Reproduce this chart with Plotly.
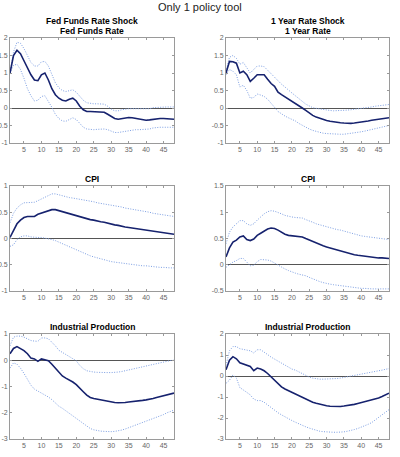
import plotly.graph_objects as go

horizons = list(range(1, 49))

ff_main = [1.0, 1.5, 1.65, 1.55, 1.35, 1.15, 0.95, 0.8, 0.78, 0.95, 1.0, 0.8, 0.55, 0.38, 0.28, 0.22, 0.2, 0.25, 0.28, 0.2,
           0.05, -0.05, -0.1, -0.1, -0.1, -0.1, -0.1, -0.12, -0.18, -0.25, -0.3, -0.32, -0.3, -0.28, -0.27, -0.28, -0.3, -0.32,
           -0.34, -0.35, -0.34, -0.32, -0.3, -0.3, -0.3, -0.3, -0.31, -0.32]
ff_upper = [1.0, 1.6, 1.88, 1.85, 1.7, 1.48, 1.3, 1.2, 1.2, 1.32, 1.33, 1.2, 0.95, 0.72, 0.58, 0.5, 0.47, 0.5, 0.52, 0.45,
            0.33, 0.22, 0.15, 0.13, 0.12, 0.12, 0.12, 0.11, 0.05, -0.03, -0.08, -0.08, -0.05, -0.03, -0.02, -0.02, -0.02, -0.03,
            -0.04, -0.04, -0.02, 0.01, 0.02, 0.03, 0.03, 0.03, 0.03, 0.03]
ff_lower = [1.0, 1.22, 1.25, 1.1, 0.85, 0.55, 0.35, 0.2, 0.22, 0.33, 0.35, 0.2, 0.02, -0.18, -0.3, -0.37, -0.38, -0.33, -0.28, -0.33,
            -0.45, -0.55, -0.6, -0.62, -0.62, -0.61, -0.6, -0.6, -0.62, -0.66, -0.7, -0.7, -0.68, -0.66, -0.64, -0.63, -0.62, -0.62,
            -0.62, -0.62, -0.6, -0.57, -0.55, -0.55, -0.55, -0.55, -0.55, -0.55]

oy_main = [1.0, 1.33, 1.32, 1.28, 1.0, 1.05, 0.95, 0.76, 0.85, 0.95, 0.95, 0.95, 0.82, 0.7, 0.62, 0.45, 0.38, 0.32, 0.25, 0.2,
           0.14, 0.06, 0.0, -0.07, -0.15, -0.21, -0.26, -0.3, -0.33, -0.36, -0.38, -0.4, -0.41, -0.42, -0.43, -0.44, -0.44, -0.43,
           -0.42, -0.4, -0.39, -0.37, -0.35, -0.34, -0.32, -0.3, -0.29, -0.28]
oy_upper = [1.05, 1.45, 1.5, 1.42, 1.25, 1.3, 1.15, 1.0, 1.1, 1.2, 1.2, 1.18, 1.08, 0.98, 0.88, 0.75, 0.68, 0.6, 0.5, 0.43,
            0.35, 0.27, 0.2, 0.11, 0.06, 0.01, -0.01, -0.03, -0.05, -0.06, -0.07, -0.08, -0.08, -0.08, -0.07, -0.06, -0.05, -0.04,
            -0.03, -0.01, 0.0, 0.02, 0.03, 0.05, 0.06, 0.07, 0.09, 0.1]
oy_lower = [0.95, 1.1, 1.05, 0.95, 0.6, 0.65, 0.5, 0.28, 0.3, 0.4, 0.37, 0.33, 0.25, 0.15, 0.02, -0.1, -0.17, -0.23, -0.28, -0.32,
            -0.37, -0.44, -0.5, -0.55, -0.6, -0.64, -0.67, -0.7, -0.72, -0.73, -0.74, -0.75, -0.75, -0.75, -0.75, -0.74, -0.73, -0.71,
            -0.7, -0.68, -0.66, -0.64, -0.61, -0.59, -0.57, -0.54, -0.52, -0.5]

cpi1_main = [0.02, 0.15, 0.28, 0.35, 0.4, 0.42, 0.42, 0.42, 0.46, 0.48, 0.5, 0.53, 0.55, 0.55, 0.53, 0.51, 0.49, 0.47, 0.45, 0.44,
             0.42, 0.4, 0.38, 0.36, 0.35, 0.33, 0.32, 0.31, 0.29, 0.28, 0.26, 0.25, 0.23, 0.22, 0.21, 0.2, 0.19, 0.18,
             0.17, 0.16, 0.15, 0.14, 0.13, 0.12, 0.11, 0.1, 0.09, 0.08]
cpi1_upper = [0.3, 0.48, 0.58, 0.64, 0.68, 0.68, 0.68, 0.69, 0.72, 0.75, 0.78, 0.82, 0.85, 0.85, 0.83, 0.81, 0.8, 0.78, 0.77, 0.76,
              0.75, 0.74, 0.72, 0.71, 0.7, 0.68, 0.67, 0.66, 0.65, 0.63, 0.62, 0.61, 0.6, 0.58, 0.57, 0.56, 0.55, 0.53,
              0.52, 0.51, 0.5, 0.48, 0.47, 0.46, 0.45, 0.44, 0.43, 0.42]
cpi1_lower = [-0.15, -0.12, -0.02, 0.03, 0.05, 0.05, 0.03, 0.02, 0.02, 0.02, 0.01, 0.0, -0.02, -0.04, -0.07, -0.1, -0.13, -0.16, -0.19, -0.22,
              -0.25, -0.28, -0.31, -0.33, -0.35, -0.37, -0.39, -0.4, -0.42, -0.44, -0.45, -0.46, -0.47, -0.48, -0.49, -0.5, -0.5, -0.51,
              -0.52, -0.52, -0.53, -0.54, -0.54, -0.55, -0.55, -0.56, -0.56, -0.56]

cpi2_main = [0.15, 0.32, 0.43, 0.47, 0.53, 0.55, 0.48, 0.46, 0.49, 0.56, 0.6, 0.64, 0.68, 0.7, 0.69, 0.66, 0.62, 0.58, 0.56, 0.55,
             0.55, 0.54, 0.53, 0.5, 0.47, 0.44, 0.41, 0.38, 0.36, 0.34, 0.32, 0.3, 0.28, 0.26, 0.24, 0.22, 0.21, 0.19,
             0.18, 0.17, 0.16, 0.15, 0.15, 0.14, 0.13, 0.13, 0.12, 0.12]
cpi2_upper = [0.4, 0.62, 0.72, 0.78, 0.84, 0.84, 0.78, 0.75, 0.78, 0.85, 0.92, 0.97, 1.01, 1.03, 1.02, 1.0, 0.97, 0.94, 0.92, 0.91,
              0.9, 0.9, 0.89, 0.86, 0.84, 0.81, 0.78, 0.76, 0.74, 0.72, 0.71, 0.69, 0.67, 0.66, 0.64, 0.62, 0.6, 0.58,
              0.57, 0.55, 0.54, 0.53, 0.52, 0.51, 0.5, 0.49, 0.48, 0.48]
cpi2_lower = [-0.05, 0.0, 0.05, 0.08, 0.12, 0.12, 0.04, -0.02, -0.01, 0.06, 0.1, 0.1, 0.09, 0.07, 0.03, -0.01, -0.05, -0.08, -0.11, -0.14,
              -0.16, -0.18, -0.19, -0.21, -0.24, -0.27, -0.3, -0.32, -0.34, -0.36, -0.37, -0.38, -0.39, -0.4, -0.41, -0.42, -0.43, -0.44,
              -0.44, -0.45, -0.45, -0.46, -0.46, -0.46, -0.46, -0.46, -0.46, -0.46]

ip1_main = [0.25, 0.45, 0.52, 0.45, 0.37, 0.25, 0.08, 0.05, -0.04, 0.05, 0.0, -0.02, -0.15, -0.3, -0.45, -0.6, -0.68, -0.75, -0.83, -0.93,
            -1.05, -1.2, -1.33, -1.42, -1.46, -1.49, -1.51, -1.53, -1.56, -1.59, -1.61, -1.62, -1.62, -1.61, -1.59, -1.58, -1.57, -1.55,
            -1.53, -1.51, -1.49, -1.46, -1.42, -1.39, -1.35, -1.31, -1.28, -1.25]
ip1_upper = [0.55, 0.88, 0.92, 0.92, 0.88, 0.8, 0.75, 0.73, 0.72, 0.85, 0.85, 0.82, 0.7, 0.55, 0.38, 0.3, 0.22, 0.12, 0.05, -0.02,
             -0.2, -0.32, -0.4, -0.43, -0.45, -0.46, -0.47, -0.47, -0.47, -0.47, -0.47, -0.45, -0.43, -0.4, -0.36, -0.32, -0.3, -0.28,
             -0.25, -0.22, -0.19, -0.16, -0.13, -0.1, -0.06, -0.03, -0.01, 0.0]
ip1_lower = [-0.3, -0.1, -0.15, -0.3, -0.5, -0.75, -0.95, -1.1, -1.17, -1.23, -1.3, -1.4, -1.5, -1.62, -1.75, -1.83, -1.93, -2.0, -2.1, -2.2,
             -2.3, -2.42, -2.52, -2.6, -2.65, -2.68, -2.7, -2.71, -2.72, -2.72, -2.71, -2.69, -2.66, -2.62, -2.57, -2.53, -2.48, -2.44,
             -2.39, -2.34, -2.28, -2.22, -2.17, -2.12, -2.07, -2.0, -1.95, -1.9]

ip2_main = [0.3, 0.75, 0.92, 0.82, 0.63, 0.58, 0.5, 0.45, 0.25, 0.38, 0.33, 0.25, 0.12, -0.05, -0.2, -0.38, -0.52, -0.62, -0.7, -0.78,
            -0.86, -0.94, -1.02, -1.1, -1.18, -1.25, -1.3, -1.35, -1.39, -1.42, -1.44, -1.45, -1.45, -1.45, -1.43, -1.41, -1.39, -1.35,
            -1.31, -1.27, -1.23, -1.19, -1.15, -1.1, -1.05, -0.98, -0.9, -0.82]
ip2_upper = [0.5, 1.2, 1.4, 1.4, 1.3, 1.27, 1.25, 1.2, 1.1, 1.25, 1.25, 1.15, 1.02, 0.9, 0.8, 0.7, 0.6, 0.5, 0.4, 0.33,
             0.28, 0.2, 0.1, 0.02, -0.05, -0.1, -0.13, -0.15, -0.15, -0.15, -0.14, -0.13, -0.12, -0.1, -0.07, -0.05, -0.02, 0.02,
             0.05, 0.08, 0.12, 0.15, 0.18, 0.22, 0.25, 0.28, 0.32, 0.35]
ip2_lower = [-0.35, -0.2, 0.05, -0.1, -0.55, -0.65, -0.78, -0.9, -1.1, -1.17, -1.17, -1.25, -1.38, -1.5, -1.63, -1.75, -1.85, -1.95, -2.05, -2.12,
             -2.2, -2.28, -2.35, -2.42, -2.48, -2.54, -2.6, -2.63, -2.65, -2.67, -2.68, -2.68, -2.68, -2.68, -2.66, -2.63, -2.6, -2.55,
             -2.5, -2.44, -2.38, -2.3, -2.22, -2.1, -1.95, -1.82, -1.7, -1.6]

x_ticks = [5, 10, 15, 20, 25, 30, 35, 40, 45]

panels = [
    # (main, upper, lower, y_range, y_ticks)
    (ff_main, ff_upper, ff_lower, [-1, 2], [-1, -0.5, 0, 0.5, 1, 1.5, 2]),
    (oy_main, oy_upper, oy_lower, [-1, 2], [-1, -0.5, 0, 0.5, 1, 1.5, 2]),
    (cpi1_main, cpi1_upper, cpi1_lower, [-1, 1], [-1, -0.5, 0, 0.5, 1]),
    (cpi2_main, cpi2_upper, cpi2_lower, [-0.5, 1.5], [-0.5, 0, 0.5, 1, 1.5]),
    (ip1_main, ip1_upper, ip1_lower, [-3, 1], [-3, -2, -1, 0, 1]),
    (ip2_main, ip2_upper, ip2_lower, [-3, 2], [-3, -2, -1, 0, 1, 2]),
]

W, H = 400, 457
col_px = [(10, 174), (226, 389)]
row_px = [(38, 143), (186, 291), (334, 439)]

main_color = "#16226e"
band_color = "#7d9fe3"
frame_color = "#9a9a9a"
tick_font = dict(family="Liberation Sans, Arial, sans-serif", size=7, color="#666666")


def fmt(v):
    return "%g" % v


fig = go.Figure()
layout = dict(
    width=W, height=H,
    margin=dict(l=0, r=0, t=0, b=0),
    paper_bgcolor="white", plot_bgcolor="white",
    showlegend=False,
)

for i, (m, u, lo, yr, yt) in enumerate(panels):
    r, c = divmod(i, 2)
    idx = "" if i == 0 else str(i + 1)
    xa, ya = "x" + idx, "y" + idx
    for series, color, width, dash in ((u, band_color, 1, "1px,1.5px"), (lo, band_color, 1, "1px,1.5px"),
                                       (m, main_color, 1.6, "solid")):
        fig.add_trace(go.Scatter(x=horizons, y=series, mode="lines", xaxis=xa, yaxis=ya,
                                 line=dict(color=color, width=width, dash=dash), hoverinfo="skip"))
    x0, x1 = col_px[c]
    y0, y1 = row_px[r]
    layout["xaxis" + idx] = dict(
        domain=[x0 / W, x1 / W], anchor=ya, range=[1, 48],
        tickvals=x_ticks, ticktext=[str(t) for t in x_ticks],
        ticks="inside", ticklen=2.5, tickcolor=frame_color, tickwidth=0.8,
        showline=True, linecolor=frame_color, linewidth=0.8, mirror="ticks",
        showgrid=False, zeroline=False, tickfont=tick_font, automargin=False,
    )
    layout["yaxis" + idx] = dict(
        domain=[1 - y1 / H, 1 - y0 / H], anchor=xa, range=yr,
        tickvals=yt, ticktext=[fmt(t) for t in yt],
        ticks="inside", ticklen=2.5, tickcolor=frame_color, tickwidth=0.8,
        showline=True, linecolor=frame_color, linewidth=0.8, mirror="ticks",
        showgrid=False, zeroline=True, zerolinecolor="#555555", zerolinewidth=0.9,
        tickfont=tick_font, automargin=False,
    )

fig.update_layout(**layout)

title_font = dict(family="Liberation Sans, Arial, sans-serif", size=8.5, color="black")
ann = []
titles = [
    ("<b>Fed Funds Rate Shock</b>", 0, 21), ("<b>Fed Funds Rate</b>", 0, 31),
    ("<b>1 Year Rate Shock</b>", 1, 21), ("<b>1 Year Rate</b>", 1, 31),
    ("<b>CPI</b>", 0, 179), ("<b>CPI</b>", 1, 179),
    ("<b>Industrial Production</b>", 0, 327), ("<b>Industrial Production</b>", 1, 327),
]
for text, c, ypx in titles:
    x0, x1 = col_px[c]
    ann.append(dict(text=text, x=(x0 + x1) / 2 / W, y=1 - ypx / H, xref="paper", yref="paper",
                    showarrow=False, xanchor="center", yanchor="middle", font=title_font))
ann.append(dict(text="Only 1 policy tool", x=200 / W, y=1 - 7 / H, xref="paper", yref="paper",
                showarrow=False, xanchor="center", yanchor="middle",
                font=dict(family="Liberation Sans, Arial, sans-serif", size=11, color="#222222")))
fig.update_layout(annotations=ann)

fig.write_html("out.html")
